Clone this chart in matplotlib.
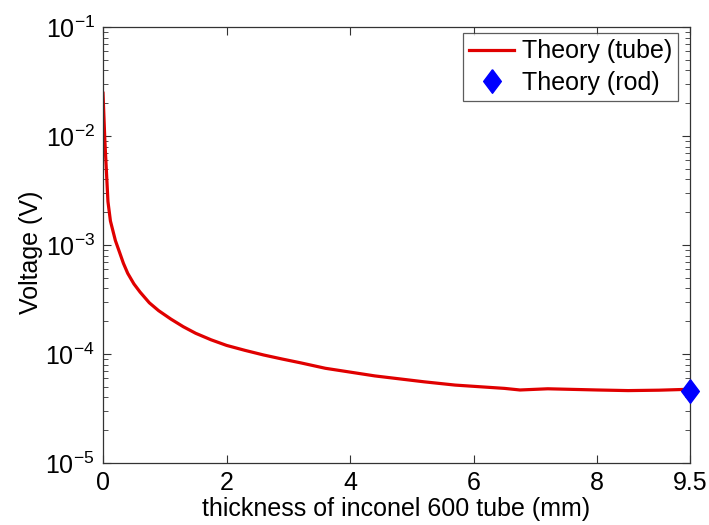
import matplotlib
matplotlib.use("Agg")
import matplotlib.pyplot as plt
from matplotlib.ticker import FixedLocator, LogLocator, NullFormatter, FuncFormatter
import numpy as np

plt.rcParams['font.family'] = ['Liberation Sans', 'DejaVu Sans']
plt.rcParams['mathtext.fontset'] = 'custom'
plt.rcParams['mathtext.rm'] = 'Liberation Sans'
plt.rcParams['mathtext.it'] = 'Liberation Sans:italic'
plt.rcParams['mathtext.default'] = 'regular'

# Theoretical voltage vs. tube wall thickness
thickness_mm = [0.0, 0.03, 0.08, 0.12, 0.2, 0.27, 0.33, 0.4, 0.5, 0.6, 0.75,
                0.9, 1.1, 1.3, 1.5, 1.75, 2.0, 2.3, 2.6, 2.9, 3.2, 3.6, 4.4,
                5.2, 5.7, 6.5, 6.75, 7.2, 8.0, 8.5, 9.0, 9.5]
voltage_tube = [2.47e-2, 9.0e-3, 2.5e-3, 1.66e-3, 1.10e-3, 8.5e-4, 6.8e-4,
                5.5e-4, 4.4e-4, 3.7e-4, 2.95e-4, 2.5e-4, 2.09e-4, 1.78e-4,
                1.55e-4, 1.35e-4, 1.20e-4, 1.08e-4, 9.8e-5, 9.0e-5, 8.3e-5,
                7.4e-5, 6.3e-5, 5.56e-5, 5.19e-5, 4.84e-5, 4.68e-5, 4.80e-5,
                4.68e-5, 4.62e-5, 4.66e-5, 4.75e-5]

# Solid rod reference point
rod_thickness = [9.5]
rod_voltage = [4.6e-5]

x_ticks = [0, 2, 4, 6, 8, 9.5]
x_tick_labels = ['0', '2', '4', '6', '8', '9.5']

fig = plt.figure(figsize=(7.09, 5.25), dpi=100)
ax = fig.add_axes([0.1453, 0.118, 0.8277, 0.8306])

ax.plot(thickness_mm, voltage_tube, color='#e00000', lw=2.3,
        solid_joinstyle='round', label='Theory (tube)')
diamond = [(0, 1), (0.75, 0), (0, -1), (-0.75, 0), (0, 1)]
ax.plot(rod_thickness, rod_voltage, linestyle='none', marker=diamond,
        markersize=17, color='#0000ff', markeredgecolor='#0000ff',
        label='Theory (rod)', clip_on=False, zorder=5)

ax.set_yscale('log')
ax.set_xlim(0, 9.5)
ax.set_ylim(1e-5, 1e-1)

ax.xaxis.set_major_locator(FixedLocator(x_ticks))
ax.set_xticklabels(x_tick_labels)
ax.yaxis.set_major_locator(LogLocator(base=10, numticks=10))
ax.yaxis.set_minor_locator(LogLocator(base=10, subs=np.arange(2, 10), numticks=20))
ax.yaxis.set_minor_formatter(NullFormatter())
ax.yaxis.set_major_formatter(FuncFormatter(
    lambda v, p: r'$10^{\mathregular{%d}}$' % int(round(np.log10(v)))))

ax.tick_params(which='both', direction='in', top=True, right=True,
               labelsize=18, color='#333333')
ax.tick_params(which='major', length=6, width=0.8, pad=6)
ax.tick_params(which='minor', length=3.5, width=0.6)
for s in ax.spines.values():
    s.set_color('#333333')
    s.set_linewidth(0.9)

ax.set_xlabel('thickness of inconel 600 tube (mm)', fontsize=18, labelpad=1)
ax.set_ylabel('Voltage (V)', fontsize=18, va='center')
ax.yaxis.set_label_coords(-0.123, 0.484)

leg = ax.legend(loc='upper right', fontsize=18, frameon=True, fancybox=False,
                edgecolor='#333333', borderpad=0.25, labelspacing=0.3,
                handlelength=1.8, handletextpad=0.3, borderaxespad=0,
                bbox_to_anchor=(0.98, 0.986))
leg.get_frame().set_linewidth(0.9)

fig.savefig('out.png', dpi=100, facecolor='white')
